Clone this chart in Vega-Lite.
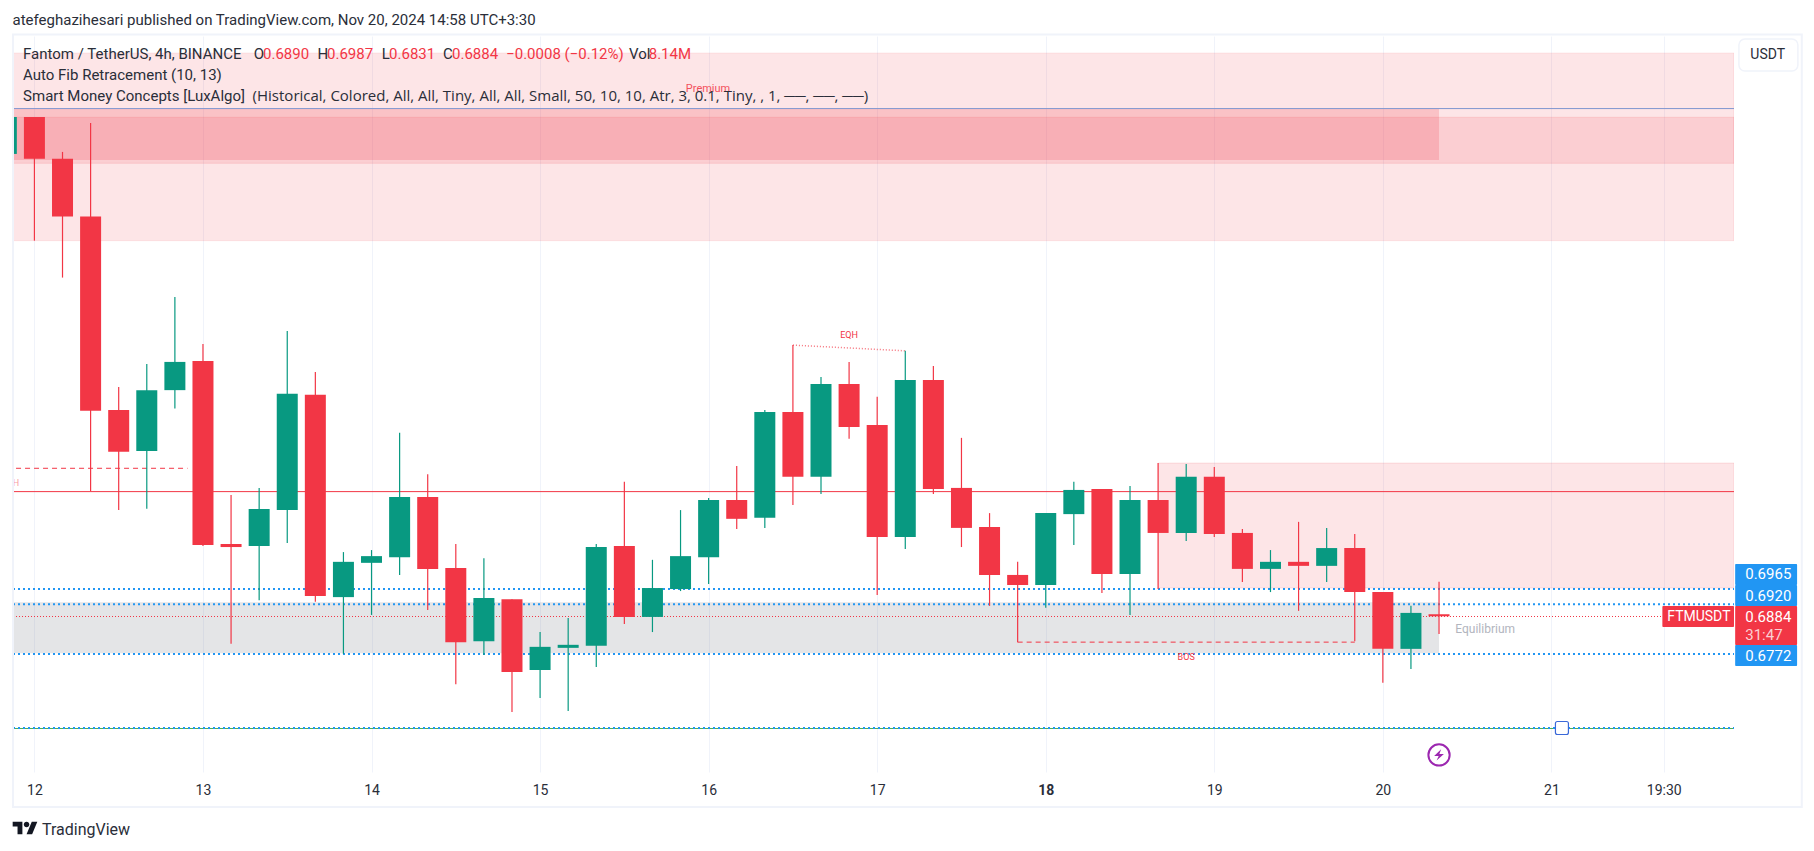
{
"$schema":"https://vega.github.io/schema/vega-lite/v6.json",
"width":1721,"height":736,
"autosize":{"type":"none"},
"padding":{"left":13,"top":36,"right":80,"bottom":79},
"background":"#ffffff",
"config":{"view":{"stroke":null},"text":{"font":"Roboto"}},
"datasets":{
"candles":[
{"t":"2024-11-11T20:00:00Z","open":0.8260,"high":0.8370,"low":0.8260,"close":0.8370,"dir":"up"},
{"t":"2024-11-12T00:00:00Z","open":0.8370,"high":0.8370,"low":0.8002,"close":0.8246,"dir":"down"},
{"t":"2024-11-12T04:00:00Z","open":0.8246,"high":0.8266,"low":0.7892,"close":0.8074,"dir":"down"},
{"t":"2024-11-12T08:00:00Z","open":0.8074,"high":0.8352,"low":0.7257,"close":0.7496,"dir":"down"},
{"t":"2024-11-12T12:00:00Z","open":0.7498,"high":0.7566,"low":0.7200,"close":0.7374,"dir":"down"},
{"t":"2024-11-12T16:00:00Z","open":0.7376,"high":0.7635,"low":0.7204,"close":0.7557,"dir":"up"},
{"t":"2024-11-12T20:00:00Z","open":0.7557,"high":0.7834,"low":0.7502,"close":0.7641,"dir":"up"},
{"t":"2024-11-13T00:00:00Z","open":0.7644,"high":0.7694,"low":0.7093,"close":0.7096,"dir":"down"},
{"t":"2024-11-13T04:00:00Z","open":0.7099,"high":0.7245,"low":0.6802,"close":0.7090,"dir":"down"},
{"t":"2024-11-13T08:00:00Z","open":0.7093,"high":0.7266,"low":0.6932,"close":0.7203,"dir":"up"},
{"t":"2024-11-13T12:00:00Z","open":0.7200,"high":0.7733,"low":0.7102,"close":0.7546,"dir":"up"},
{"t":"2024-11-13T16:00:00Z","open":0.7543,"high":0.7611,"low":0.6927,"close":0.6944,"dir":"down"},
{"t":"2024-11-13T20:00:00Z","open":0.6941,"high":0.7075,"low":0.6772,"close":0.7046,"dir":"up"},
{"t":"2024-11-14T00:00:00Z","open":0.7043,"high":0.7081,"low":0.6888,"close":0.7063,"dir":"up"},
{"t":"2024-11-14T04:00:00Z","open":0.7060,"high":0.7430,"low":0.7007,"close":0.7239,"dir":"up"},
{"t":"2024-11-14T08:00:00Z","open":0.7239,"high":0.7307,"low":0.6903,"close":0.7025,"dir":"down"},
{"t":"2024-11-14T12:00:00Z","open":0.7028,"high":0.7099,"low":0.6682,"close":0.6807,"dir":"down"},
{"t":"2024-11-14T16:00:00Z","open":0.6810,"high":0.7057,"low":0.6769,"close":0.6938,"dir":"up"},
{"t":"2024-11-14T20:00:00Z","open":0.6935,"high":0.6935,"low":0.6599,"close":0.6718,"dir":"down"},
{"t":"2024-11-15T00:00:00Z","open":0.6724,"high":0.6837,"low":0.6641,"close":0.6793,"dir":"up"},
{"t":"2024-11-15T04:00:00Z","open":0.6790,"high":0.6879,"low":0.6602,"close":0.6799,"dir":"up"},
{"t":"2024-11-15T08:00:00Z","open":0.6796,"high":0.7099,"low":0.6733,"close":0.7090,"dir":"up"},
{"t":"2024-11-15T12:00:00Z","open":0.7093,"high":0.7284,"low":0.6861,"close":0.6882,"dir":"down"},
{"t":"2024-11-15T16:00:00Z","open":0.6882,"high":0.7052,"low":0.6837,"close":0.6968,"dir":"up"},
{"t":"2024-11-15T20:00:00Z","open":0.6965,"high":0.7200,"low":0.6959,"close":0.7063,"dir":"up"},
{"t":"2024-11-16T00:00:00Z","open":0.7060,"high":0.7236,"low":0.6980,"close":0.7230,"dir":"up"},
{"t":"2024-11-16T04:00:00Z","open":0.7230,"high":0.7331,"low":0.7144,"close":0.7174,"dir":"down"},
{"t":"2024-11-16T08:00:00Z","open":0.7177,"high":0.7498,"low":0.7147,"close":0.7492,"dir":"up"},
{"t":"2024-11-16T12:00:00Z","open":0.7492,"high":0.7691,"low":0.7215,"close":0.7299,"dir":"down"},
{"t":"2024-11-16T16:00:00Z","open":0.7299,"high":0.7596,"low":0.7248,"close":0.7575,"dir":"up"},
{"t":"2024-11-16T20:00:00Z","open":0.7575,"high":0.7641,"low":0.7412,"close":0.7447,"dir":"down"},
{"t":"2024-11-17T00:00:00Z","open":0.7453,"high":0.7537,"low":0.6947,"close":0.7120,"dir":"down"},
{"t":"2024-11-17T04:00:00Z","open":0.7120,"high":0.7674,"low":0.7084,"close":0.7587,"dir":"up"},
{"t":"2024-11-17T08:00:00Z","open":0.7587,"high":0.7629,"low":0.7248,"close":0.7263,"dir":"down"},
{"t":"2024-11-17T12:00:00Z","open":0.7266,"high":0.7415,"low":0.7090,"close":0.7147,"dir":"down"},
{"t":"2024-11-17T16:00:00Z","open":0.7150,"high":0.7191,"low":0.6915,"close":0.7007,"dir":"down"},
{"t":"2024-11-17T20:00:00Z","open":0.7007,"high":0.7046,"low":0.6807,"close":0.6977,"dir":"down"},
{"t":"2024-11-18T00:00:00Z","open":0.6977,"high":0.7191,"low":0.6909,"close":0.7191,"dir":"up"},
{"t":"2024-11-18T04:00:00Z","open":0.7188,"high":0.7284,"low":0.7096,"close":0.7260,"dir":"up"},
{"t":"2024-11-18T08:00:00Z","open":0.7263,"high":0.7263,"low":0.6953,"close":0.7010,"dir":"down"},
{"t":"2024-11-18T12:00:00Z","open":0.7010,"high":0.7272,"low":0.6888,"close":0.7230,"dir":"up"},
{"t":"2024-11-18T16:00:00Z","open":0.7230,"high":0.7340,"low":0.6965,"close":0.7132,"dir":"down"},
{"t":"2024-11-18T20:00:00Z","open":0.7132,"high":0.7337,"low":0.7108,"close":0.7299,"dir":"up"},
{"t":"2024-11-19T00:00:00Z","open":0.7299,"high":0.7328,"low":0.7120,"close":0.7129,"dir":"down"},
{"t":"2024-11-19T04:00:00Z","open":0.7132,"high":0.7144,"low":0.6986,"close":0.7025,"dir":"down"},
{"t":"2024-11-19T08:00:00Z","open":0.7025,"high":0.7081,"low":0.6956,"close":0.7046,"dir":"up"},
{"t":"2024-11-19T12:00:00Z","open":0.7046,"high":0.7165,"low":0.6900,"close":0.7034,"dir":"down"},
{"t":"2024-11-19T16:00:00Z","open":0.7034,"high":0.7147,"low":0.6986,"close":0.7087,"dir":"up"},
{"t":"2024-11-19T20:00:00Z","open":0.7087,"high":0.7129,"low":0.6810,"close":0.6956,"dir":"down"},
{"t":"2024-11-20T00:00:00Z","open":0.6956,"high":0.6956,"low":0.6686,"close":0.6787,"dir":"down"},
{"t":"2024-11-20T04:00:00Z","open":0.6787,"high":0.6915,"low":0.6727,"close":0.6894,"dir":"up"},
{"t":"2024-11-20T08:00:00Z","open":0.6890,"high":0.6987,"low":0.6831,"close":0.6884,"dir":"down"}
]},
"encoding":{
"x":{"field":"t","type":"temporal","title":null,
 "scale":{"type":"utc","padding":0,"domain":["2024-11-11T20:57:00Z","2024-11-22T02:00:00Z"]},
 "axis":{"orient":"bottom","domain":false,"ticks":false,"labelPadding":11,"labelFont":"Roboto","labelFontSize":14,"labelColor":"#2a2e39","gridColor":"#f0f3fa","grid":true,"labelFlush":false,"labelOverlap":false,
  "values":["2024-11-12T00:00:00Z","2024-11-13T00:00:00Z","2024-11-14T00:00:00Z","2024-11-15T00:00:00Z","2024-11-16T00:00:00Z","2024-11-17T00:00:00Z","2024-11-18T00:00:00Z","2024-11-19T00:00:00Z","2024-11-20T00:00:00Z","2024-11-21T00:00:00Z","2024-11-21T16:00:00Z"],
  "labelExpr":"utchours(datum.value)==16?'19:30':''+utcdate(datum.value)",
  "labelFontWeight":{"condition":{"test":"utcdate(datum.value)==18&&utchours(datum.value)==0","value":"bold"},"value":"normal"}}},
"y":{"field":"p","type":"quantitative","title":null,
 "scale":{"domain":[0.64205,0.8611],"nice":false,"zero":false},
 "axis":{"orient":"right","domain":false,"ticks":false,"labelPadding":11,"labelAlign":"left","labelFont":"Roboto","labelFontSize":15,"labelColor":"#2a2e39","gridColor":"#f0f3fa","grid":true,"labelOverlap":false,"labelBound":false,
  "values":[0.66,0.68,0.7,0.72,0.74,0.76,0.78,0.8,0.82,0.84,0.86],
  "labelExpr":"(datum.value>0.85||datum.value==0.7||datum.value==0.68)?'':format(datum.value,'.4f')"}}
},
"layer":[
{"data":{"values":[
 {"t":"2024-11-11T20:57:00Z","t2":"2024-11-22T02:00:00Z","p":0.8560,"p2":0.8002,"zone":"Premium"},
 {"t":"2024-11-11T20:57:00Z","t2":"2024-11-22T02:00:00Z","p":0.8369,"p2":0.8232,"zone":"Bearish order block"},
 {"t":"2024-11-18T16:00:00Z","t2":"2024-11-22T02:00:00Z","p":0.7340,"p2":0.6968,"zone":"Order block"}]},
 "mark":{"type":"rect","clip":true,"fill":"#f23645","fillOpacity":0.13,"stroke":"#f23645","strokeOpacity":0.12,"strokeWidth":1},
 "encoding":{"x2":{"field":"t2"},"y2":{"field":"p2"}}},
{"data":{"values":[{"t":"2024-11-11T20:57:00Z","t2":"2024-11-20T08:00:00Z","p":0.8394,"p2":0.8242,"zone":"Supply"}]},
 "mark":{"type":"rect","clip":true,"fill":"#f23645","fillOpacity":0.2},
 "encoding":{"x2":{"field":"t2"},"y2":{"field":"p2"}}},
{"data":{"values":[{"t":"2024-11-11T20:57:00Z","t2":"2024-11-20T08:00:00Z","p":0.6926,"p2":0.6774,"zone":"Equilibrium"}]},
 "mark":{"type":"rect","clip":true,"fill":"#787b86","fillOpacity":0.2},
 "encoding":{"x2":{"field":"t2"},"y2":{"field":"p2"}}},
{"data":{"values":[{"t":"2024-11-11T20:57:00Z","t2":"2024-11-22T02:00:00Z","p":0.6550}]},
 "mark":{"type":"rule","color":"#4caf50","strokeWidth":1},"encoding":{"x2":{"field":"t2"}}},
{"data":{"values":[{"t":"2024-11-11T20:57:00Z","t2":"2024-11-22T02:00:00Z","p":0.8395}]},
 "mark":{"type":"rule","color":"#8096cf","strokeWidth":1},"encoding":{"x2":{"field":"t2"}}},
{"data":{"values":[{"t":"2024-11-11T20:57:00Z","t2":"2024-11-22T02:00:00Z","p":0.7255}]},
 "mark":{"type":"rule","color":"#f23645","strokeWidth":1},"encoding":{"x2":{"field":"t2"}}},
{"data":{"values":[
 {"t":"2024-11-11T20:57:00Z","t2":"2024-11-22T02:00:00Z","p":0.6965},
 {"t":"2024-11-11T20:57:00Z","t2":"2024-11-22T02:00:00Z","p":0.6920},
 {"t":"2024-11-11T20:57:00Z","t2":"2024-11-22T02:00:00Z","p":0.6772},
 {"t":"2024-11-11T20:57:00Z","t2":"2024-11-22T02:00:00Z","p":0.65515}]},
 "mark":{"type":"rule","color":"#2196f3","strokeWidth":2,"strokeDash":[2,3]},"encoding":{"x2":{"field":"t2"}}},
{"data":{"values":[{"t":"2024-11-11T20:57:00Z","t2":"2024-11-21T15:48:00Z","p":0.68833}]},
 "mark":{"type":"rule","color":"#f23645","strokeWidth":1,"strokeDash":[1,2]},"encoding":{"x2":{"field":"t2"}}},
{"data":{"values":[
 {"t":"2024-11-11T21:23:00Z","t2":"2024-11-12T21:48:00Z","p":0.73244},
 {"t":"2024-11-17T20:00:00Z","t2":"2024-11-19T20:00:00Z","p":0.6807}]},
 "mark":{"type":"rule","color":"#f23645","strokeWidth":1,"strokeDash":[5,4]},"encoding":{"x2":{"field":"t2"}}},
{"data":{"values":[{"t":"2024-11-16T12:00:00Z","p":0.7691},{"t":"2024-11-17T04:00:00Z","p":0.7674}]},
 "mark":{"type":"line","color":"#f23645","strokeWidth":1.5,"strokeDash":[1,2],"opacity":0.7},"encoding":{}},
{"data":{"name":"candles"},
 "mark":{"type":"rule","clip":true,"strokeWidth":1.2},
 "encoding":{"y":{"field":"low","type":"quantitative","scale":{"domain":[0.64205,0.8611],"nice":false,"zero":false},"axis":null},"y2":{"field":"high"},
  "color":{"field":"dir","type":"nominal","scale":{"domain":["up","down"],"range":["#089981","#f23645"]},"legend":null}}},
{"data":{"name":"candles"},
 "mark":{"type":"bar","clip":true,"size":21},
 "encoding":{"y":{"field":"open","type":"quantitative","scale":{"domain":[0.64205,0.8611],"nice":false,"zero":false},"axis":null},"y2":{"field":"close"},
  "color":{"field":"dir","type":"nominal","scale":{"domain":["up","down"],"range":["#089981","#f23645"]},"legend":null}}},
{"data":{"values":[
 {"t":"2024-11-15T23:55:00Z","p":0.84533,"label":"Premium"}]},
 "mark":{"type":"text","color":"#f23645","fontSize":11,"opacity":0.85},"encoding":{"text":{"field":"label"}}},
{"data":{"values":[
 {"t":"2024-11-16T20:00:00Z","p":0.77212,"label":"EQH"},
 {"t":"2024-11-18T20:00:00Z","p":0.67628,"label":"BOS"}]},
 "mark":{"type":"text","color":"#f23645","fontSize":9},"encoding":{"text":{"field":"label"}}},
{"data":{"values":[{"t":"2024-11-11T21:23:00Z","p":0.72816,"label":"H"}]},
 "mark":{"type":"text","color":"#f23645","fontSize":9,"opacity":0.5},"encoding":{"text":{"field":"label"}}},
{"data":{"values":[{"t":"2024-11-20T14:34:00Z","p":0.68462,"label":"Equilibrium"}]},
 "mark":{"type":"text","color":"#b2b5be","fontSize":12},"encoding":{"text":{"field":"label"}}},
{"data":{"values":[{"t":"2024-11-21T01:30:00Z","p":0.65515}]},
 "mark":{"type":"point","filled":true,"fill":"#ffffff","stroke":"#3a68d8","strokeWidth":1.2,"opacity":1,"size":169,"shape":"M-0.7 -1 H0.7 A.3 .3 0 0 1 1 -.7 V.7 A.3 .3 0 0 1 .7 1 H-.7 A.3 .3 0 0 1 -1 .7 V-.7 A.3 .3 0 0 1 -.7 -1 Z"},"encoding":{}},
{"data":{"values":[{"t":"2024-11-20T08:00:00Z","p":0.64712}]},
 "mark":{"type":"point","filled":false,"stroke":"#9c27b0","strokeWidth":2,"opacity":1,"size":452,"shape":"circle"},"encoding":{}},
{"data":{"values":[{"t":"2024-11-20T08:00:00Z","p":0.64712}]},
 "mark":{"type":"point","filled":true,"color":"#9c27b0","opacity":1,"size":196,"shape":"M0.3 -0.8 L-0.7 0.15 H-0.05 L-0.35 0.8 L0.7 -0.15 H0.05 Z"},"encoding":{}},
{"data":{"values":[
 {"t":"2024-11-22T02:10:00Z","t2":"2024-11-22T10:59:00Z","p":0.70396,"p2":0.69771,"box":"blue"},
 {"t":"2024-11-22T02:10:00Z","t2":"2024-11-22T10:59:00Z","p":0.69771,"p2":0.69146,"box":"blue"},
 {"t":"2024-11-22T02:10:00Z","t2":"2024-11-22T10:59:00Z","p":0.67986,"p2":0.67361,"box":"blue"}]},
 "mark":{"type":"rect","fill":"#2196f3","cornerRadius":1},"encoding":{"x2":{"field":"t2"},"y2":{"field":"p2"}}},
{"data":{"values":[
 {"t":"2024-11-22T02:10:00Z","t2":"2024-11-22T10:59:00Z","p":0.69146,"p2":0.67986},
 {"t":"2024-11-21T15:48:00Z","t2":"2024-11-22T02:00:00Z","p":0.69146,"p2":0.68521}]},
 "mark":{"type":"rect","fill":"#f23645","cornerRadius":1},"encoding":{"x2":{"field":"t2"},"y2":{"field":"p2"}}},
{"data":{"values":[
 {"t":"2024-11-22T03:36:00Z","p":0.70090,"label":"0.6965"},
 {"t":"2024-11-22T03:36:00Z","p":0.69453,"label":"0.6920"},
 {"t":"2024-11-22T03:36:00Z","p":0.68828,"label":"0.6884"},
 {"t":"2024-11-22T03:36:00Z","p":0.67667,"label":"0.6772"}]},
 "mark":{"type":"text","color":"#ffffff","fontSize":15,"align":"left"},"encoding":{"text":{"field":"label"}}},
{"data":{"values":[{"t":"2024-11-21T16:30:00Z","p":0.68818,"label":"FTMUSDT"}]},
 "mark":{"type":"text","color":"#ffffff","fontSize":14,"align":"left"},"encoding":{"text":{"field":"label"}}},
{"data":{"values":[{"t":"2024-11-22T03:36:00Z","p":0.68293,"label":"31:47"}]},
 "mark":{"type":"text","color":"#fbd0d4","fontSize":15,"align":"left"},"encoding":{"text":{"field":"label"}}},
{"data":{"values":[{"t":"2024-11-22T02:42:00Z","t2":"2024-11-22T11:06:00Z","p":0.86021,"p2":0.85069}]},
 "mark":{"type":"rect","fill":"#ffffff","stroke":"#f0f3fa","strokeWidth":1.5,"cornerRadius":6},"encoding":{"x2":{"field":"t2"},"y2":{"field":"p2"}}},
{"data":{"values":[{"t":"2024-11-22T06:48:00Z","p":0.85554,"label":"USDT"}]},
 "mark":{"type":"text","color":"#2a2e39","fontSize":14},"encoding":{"text":{"field":"label"}}},
{"data":{"values":[{"t":"2024-11-11T20:57:00Z","t2":"2024-11-22T11:39:00Z","p":0.86155,"p2":0.63164}]},
 "mark":{"type":"rect","fill":"transparent","stroke":"#f0f3fa","strokeWidth":2},"encoding":{"x2":{"field":"t2"},"y2":{"field":"p2"}}},
{"data":{"values":[{"t":"2024-11-11T20:53:00Z","p":0.86587,"label":"atefeghazihesari published on TradingView.com, Nov 20, 2024 14:58 UTC+3:30"}]},
 "mark":{"type":"text","color":"#2a2e39","fontSize":15,"align":"left"},"encoding":{"text":{"field":"label"}}},
{"data":{"values":[
 {"t":"2024-11-11T22:23:00Z","p":0.85575,"label":"Fantom / TetherUS, 4h, BINANCE"},
 {"t":"2024-11-13T07:14:00Z","p":0.85575,"label":"O"},
 {"t":"2024-11-13T16:19:00Z","p":0.85575,"label":"H"},
 {"t":"2024-11-14T01:27:00Z","p":0.85575,"label":"L"},
 {"t":"2024-11-14T10:11:00Z","p":0.85575,"label":"C"},
 {"t":"2024-11-15T12:40:00Z","p":0.85575,"label":"Vol"},
 {"t":"2024-11-11T22:23:00Z","p":0.8495,"label":"Auto Fib Retracement (10, 13)"},
 {"t":"2024-11-11T22:23:00Z","p":0.84325,"label":"Smart Money Concepts [LuxAlgo]"}]},
 "mark":{"type":"text","color":"#2a2e39","fontSize":15,"align":"left"},"encoding":{"text":{"field":"label"}}},
{"data":{"values":[
 {"t":"2024-11-13T07:04:00Z","p":0.84325,"label":"(Historical, Colored, All, All, Tiny, All, All, Small, 50, 10, 10, Atr, 3, 0.1, Tiny, , 1, ──, ──, ──)"}]},
 "mark":{"type":"text","color":"#2a2e39","font":"Open Sans","fontSize":15,"align":"left"},"encoding":{"text":{"field":"label"}}},
{"data":{"values":[
 {"t":"2024-11-13T08:33:00Z","p":0.85575,"label":"0.6890"},
 {"t":"2024-11-13T17:40:00Z","p":0.85575,"label":"0.6987"},
 {"t":"2024-11-14T02:30:00Z","p":0.85575,"label":"0.6831"},
 {"t":"2024-11-14T11:28:00Z","p":0.85575,"label":"0.6884"},
 {"t":"2024-11-14T19:10:00Z","p":0.85575,"label":"−0.0008 (−0.12%)"},
 {"t":"2024-11-15T15:28:00Z","p":0.85575,"label":"8.14M"}]},
 "mark":{"type":"text","color":"#f23645","fontSize":15,"align":"left"},"encoding":{"text":{"field":"label"}}},
{"data":{"values":[{"t":"2024-11-11T22:41:00Z","p":0.62539}]},
 "mark":{"type":"point","filled":true,"color":"#131722","opacity":1,"size":625,"shape":"M-0.222 0.5 H-0.611 V-0.111 H-1 V-0.5 H-0.222 Z M0.556 0.5 H0.111 L0.528 -0.5 H0.972 Z M-0.111 -0.278 A.222 .222 0 1 0 .333 -.278 A.222 .222 0 1 0 -.111 -.278 Z"},"encoding":{}},
{"data":{"values":[{"t":"2024-11-12T01:05:00Z","p":0.62479,"label":"TradingView"}]},
 "mark":{"type":"text","color":"#2a2e39","fontSize":16,"align":"left"},"encoding":{"text":{"field":"label"}}}
]
}
